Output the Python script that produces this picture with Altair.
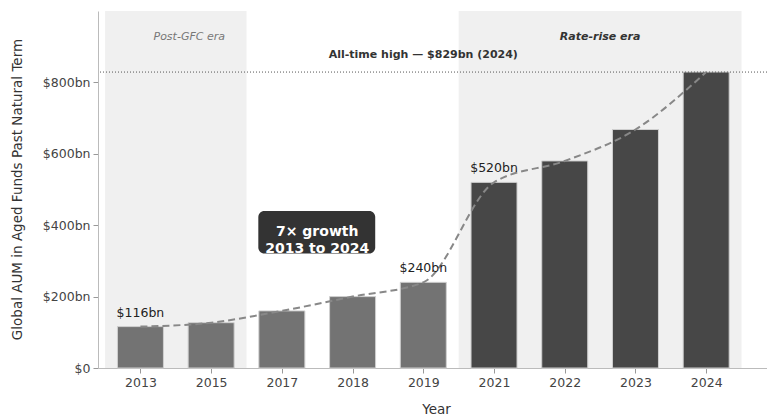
import altair as alt
import pandas as pd

years = ["2013", "2015", "2017", "2018", "2019", "2021", "2022", "2023", "2024"]
aum = [116, 127, 160, 200, 240, 520, 580, 668, 829]
era = ["Post-GFC", "Post-GFC", "Mid", "Mid", "Mid", "Rate-rise", "Rate-rise", "Rate-rise", "Rate-rise"]
value_labels = ["$116bn", "", "", "", "$240bn", "$520bn", "", "", ""]
bar_colors = ["#737373", "#737373", "#737373", "#737373", "#737373", "#474747", "#474747", "#474747", "#474747"]

era_names = ["Post-GFC era", "Rate-rise era"]
era_start = [-0.5, 4.5]
era_end = [1.5, 8.5]

peak_value = 829
peak_label = "All-time high — $829bn (2024)"

df = pd.DataFrame({
    "idx": list(range(len(years))),
    "year": years,
    "aum": aum,
    "era": era,
    "label": value_labels,
    "color": bar_colors,
})
eras = pd.DataFrame({"name": era_names, "start": era_start, "end": era_end})

FONT = "DejaVu Sans"
label_expr = "[" + ",".join(f"'{y}'" for y in years) + "][datum.value]"

xscale = alt.Scale(domain=[-0.6, 8.86], nice=False, zero=False, padding=0)
yscale = alt.Scale(domain=[0, 1000], nice=False, padding=0)

xenc = alt.X("idx:Q", scale=xscale,
             axis=alt.Axis(values=list(range(len(years))), labelExpr=label_expr,
                           title="Year", grid=False, titleFontSize=13.5,
                           titleFontWeight="normal", titleColor="#333",
                           titleX=338, titleY=41, titleBaseline="middle",
                           labelFontSize=12.5, labelColor="#444", labelPadding=3,
                           tickColor="#999", tickSize=5, domainColor="#bbb"))
yenc = alt.Y("aum:Q", scale=yscale,
             axis=alt.Axis(values=[0, 200, 400, 600, 800],
                           labelExpr="datum.value == 0 ? '$0' : '$' + datum.value + 'bn'",
                           title="Global AUM in Aged Funds Past Natural Term",
                           grid=False, titleFontSize=13.5, titleFontWeight="normal",
                           titleColor="#333", titleX=-74, titleY=178,
                           labelFontSize=12.5, labelColor="#444", labelPadding=3,
                           tickColor="#999", tickSize=5, domainColor="#bbb"))

bands = alt.Chart(eras).mark_rect(color="#f0f0f0").encode(
    x=alt.X("start:Q", scale=xscale),
    x2="end:Q",
    y=alt.datum(0, scale=yscale),
    y2=alt.datum(1000),
)

era_text_left = alt.Chart(eras[eras["name"] == "Post-GFC era"]).mark_text(
    font=FONT, fontSize=11, fontStyle="italic", color="#777", baseline="middle"
).encode(x=alt.datum(0.69), y=alt.datum(927), text="name:N")

era_text_right = alt.Chart(eras[eras["name"] == "Rate-rise era"]).mark_text(
    font=FONT, fontSize=11, fontStyle="italic", fontWeight="bold", color="#333", baseline="middle"
).encode(x=alt.datum(6.5), y=alt.datum(927), text="name:N")

bars = alt.Chart(df).mark_bar(size=46, stroke="#d0d0d0", strokeWidth=1).encode(
    x=xenc, y=yenc, color=alt.Color("color:N", scale=None)
)

trend = alt.Chart(df).mark_line(color="#888", strokeWidth=2, strokeDash=[7, 4],
                                interpolate="monotone").encode(x="idx:Q", y="aum:Q")

labels = alt.Chart(df).mark_text(font=FONT, fontSize=12.5, color="#222",
                                 baseline="middle", dy=-14).encode(
    x="idx:Q", y="aum:Q", text="label:N")

peak_rule = alt.Chart(pd.DataFrame({"v": [peak_value]})).mark_rule(
    color="#555", strokeDash=[1, 2], strokeWidth=1).encode(y="v:Q")

peak_text = alt.Chart(pd.DataFrame({"v": [peak_value], "t": [peak_label]})).mark_text(
    font=FONT, fontSize=11, fontWeight="bold", color="#333", baseline="middle", dy=-17
).encode(x=alt.datum(4.0), y="v:Q", text="t:N")

box = alt.Chart(pd.DataFrame({"a": [0]})).mark_rect(color="#333333", cornerRadius=6).encode(
    x=alt.datum(1.667), x2=alt.datum(3.32), y=alt.datum(321), y2=alt.datum(440)
)
box_text = alt.Chart(pd.DataFrame({"a": [0]})).mark_text(
    font=FONT, fontSize=14, fontWeight="bold", color="white", baseline="middle",
    lineHeight=17, text=["7× growth", "2013 to 2024"]
).encode(x=alt.datum(2.5), y=alt.datum(382))

chart = alt.layer(
    bands, era_text_left, era_text_right, bars, trend, labels,
    peak_rule, peak_text, box, box_text
).properties(
    width=669, height=357,
    autosize=alt.AutoSizeParams(type="none"),
    padding={"left": 98, "top": 11, "right": 0, "bottom": 49},
).configure_view(stroke=None).configure_axis(labelFont=FONT, titleFont=FONT)

chart.save("out.html", embed_options={"renderer": "svg", "actions": False})
